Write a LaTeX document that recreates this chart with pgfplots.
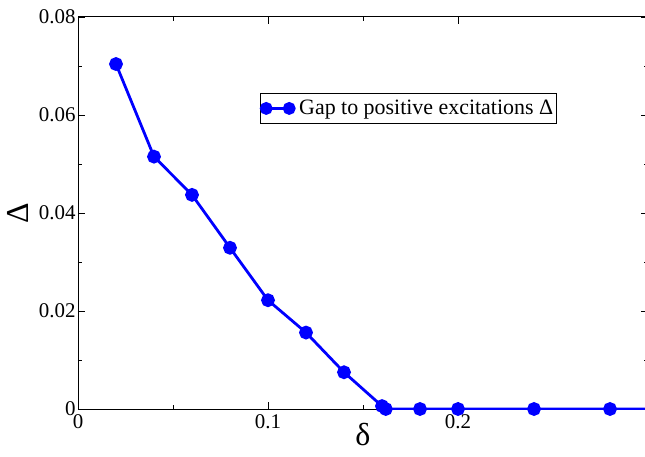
\documentclass[border=0pt]{standalone}
\usepackage{pgfplots}
\pgfplotsset{compat=1.18}
\usepackage{fontspec}
\setmainfont{Liberation Serif}

\begin{document}
\begin{tikzpicture}
\begin{axis}[
    scale only axis,
    width=570bp, height=392bp,
    xmin=0, xmax=0.3,
    ymin=0, ymax=0.08,
    scaled ticks=false,
    xtick={0,0.1,0.2}, xticklabels={0,0.1,0.2},
    ytick={0,0.02,0.04,0.06,0.08},
    yticklabels={0,0.02,0.04,0.06,0.08},
    minor tick num=1,
    tick align=inside,
    major tick length=7bp, minor tick length=4bp,
    tick style={black, line width=0.8pt},
    axis line style={line width=1pt},
    ticklabel style={font=\fontsize{21}{24}\selectfont},
    xticklabel style={yshift=-2bp},
    yticklabel style={xshift=1bp},
    xlabel={δ}, ylabel={Δ},
    label style={font=\fontsize{32}{34}\selectfont},
    xlabel style={yshift=12bp},
    ylabel style={at={(axis description cs:-0.106,0.5)}, anchor=center},
    legend style={at={(0.319,0.806)}, anchor=north west, draw=black,
        line width=0.8pt, font=\fontsize{22}{24}\selectfont,
        inner xsep=1bp, inner ysep=5bp, column sep=3bp},
    legend image code/.code={\draw[#1, mark size=5bp] plot coordinates {(0bp,0bp) (23bp,0bp)};},
]
\addplot[blue, line width=2.8bp, mark=*, mark size=5.5bp, mark options={fill=blue, draw=blue}] coordinates {
    (0.02, 0.0704)
    (0.04, 0.0515)
    (0.06, 0.0437)
    (0.08, 0.0329)
    (0.10, 0.0222)
    (0.12, 0.0156)
    (0.14, 0.0075)
    (0.16, 0.0006)
    (0.162, 0.0)
    (0.18, 0.0)
    (0.20, 0.0)
    (0.24, 0.0)
    (0.28, 0.0)
    (0.32, 0.0)
};
\addlegendentry{Gap to positive excitations Δ}
\end{axis}
\pgfresetboundingbox
\path[use as bounding box] ([xshift=-78bp,yshift=-48bp]current axis.south west) rectangle ([xshift=-3bp,yshift=17bp]current axis.north east);
\end{tikzpicture}
\end{document}
